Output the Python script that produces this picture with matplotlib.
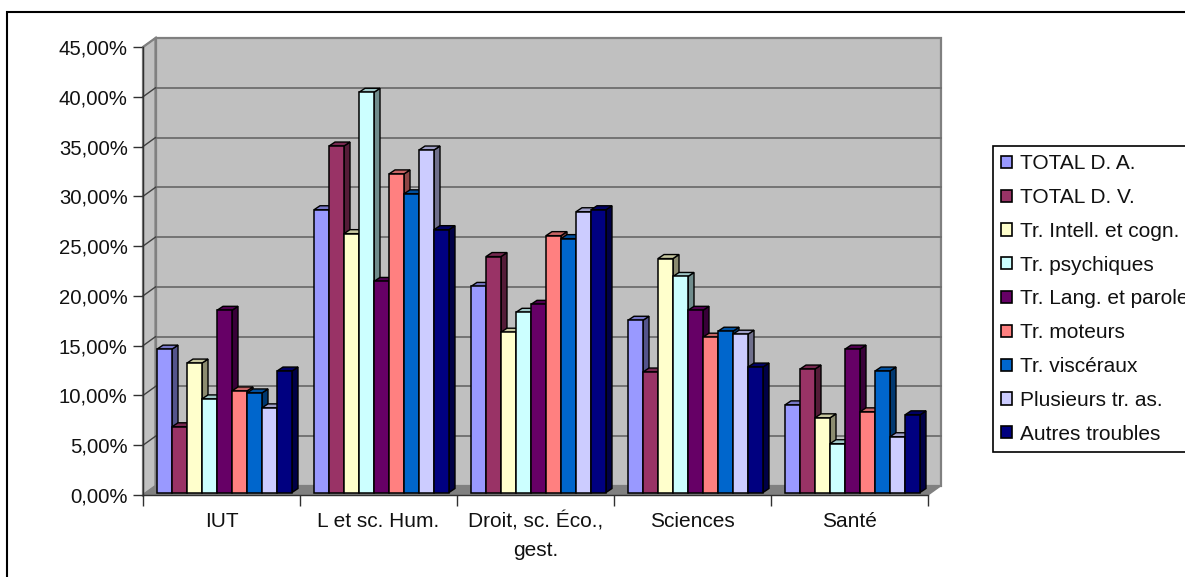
import numpy as np
import matplotlib
matplotlib.use("Agg")
import matplotlib.pyplot as plt
from matplotlib.patches import Polygon, Rectangle

plt.rcParams["font.family"] = ["Liberation Sans", "DejaVu Sans"]

W, H = 1185, 577

categories = ["IUT", "L et sc. Hum.", "Droit, sc. Éco.,\ngest.", "Sciences", "Santé"]

total_da = [14.4, 28.4, 20.7, 17.3, 8.8]
total_dv = [6.6, 34.8, 23.7, 12.1, 12.4]
intell = [13.0, 26.0, 16.1, 23.5, 7.5]
psy = [9.4, 40.2, 18.1, 21.7, 4.9]
lang = [18.3, 21.2, 18.9, 18.3, 14.4]
moteurs = [10.2, 32.0, 25.8, 15.6, 8.1]
visceraux = [10.0, 30.0, 25.5, 16.2, 12.2]
plusieurs = [8.5, 34.4, 28.2, 15.9, 5.6]
autres = [12.2, 26.4, 28.4, 12.6, 7.8]

series = [total_da, total_dv, intell, psy, lang, moteurs, visceraux, plusieurs, autres]
names = ["TOTAL D. A.", "TOTAL D. V.", "Tr. Intell. et cogn.", "Tr. psychiques",
         "Tr. Lang. et parole", "Tr. moteurs", "Tr. viscéraux", "Plusieurs tr. as.",
         "Autres troubles"]
colors = ["#9999FF", "#993366", "#FFFFCC", "#CCFFFF", "#660066",
          "#FF8080", "#0066CC", "#CCCCFF", "#000080"]
yticks = list(range(0, 50, 5))

# pixel sizes of the fake 3D, turned into data units below
PX_X = 157.0
PX_Y = 448 / 45


def shade(c, f):
    r, g, b = matplotlib.colors.to_rgb(c)
    return (r * f, g * f, b * f)


fig = plt.figure(figsize=(W / 100, H / 100), dpi=100, facecolor="white")

# outer frame, runs off the right and bottom of the image
fig.add_artist(Rectangle((7 / W, -0.05), 1.2, 1.05 - 12 / H, transform=fig.transFigure,
                         fill=False, ec="black", lw=1.5))

ax = fig.add_axes([143 / W, (H - 495) / H, 785 / W, 448 / H])
ax.set_xlim(0, 5)
ax.set_ylim(0, 45)
ax.patch.set_visible(False)
for s in ["top", "right"]:
    ax.spines[s].set_visible(False)
for s in ["left", "bottom"]:
    ax.spines[s].set_color("#303030")
    ax.spines[s].set_linewidth(1.0)

wdx, wdy = 12.5 / PX_X, 9 / PX_Y
gray = "#808080"

# walls and floor
ax.add_patch(Polygon([(wdx, wdy), (5 + wdx, wdy), (5 + wdx, 45 + wdy), (wdx, 45 + wdy)],
                     fc="#C0C0C0", ec=gray, lw=1.6, zorder=1, clip_on=False))
ax.add_patch(Polygon([(0, 0), (wdx, wdy), (wdx, 45 + wdy), (0, 45)],
                     fc="#C0C0C0", ec=gray, lw=1.6, zorder=1, clip_on=False))
ax.add_patch(Polygon([(0, 0), (5, 0), (5 + wdx, wdy), (wdx, wdy)],
                     fc=gray, ec=gray, lw=1.0, zorder=1, clip_on=False))
for v in yticks[1:-1]:
    ax.plot([wdx, 5 + wdx], [v + wdy, v + wdy], color="#6e6e6e", lw=1.3, zorder=2, clip_on=False)
for v in yticks[1:]:
    ax.plot([0, wdx], [v, v + wdy], color="#404040" if v < 45 else gray, lw=1.0, zorder=2, clip_on=False)

# bars
bw = 15 / PX_X
x0 = 14 / PX_X
base = 2.5 / PX_Y
bdx, bdy = 6 / PX_X, 4 / PX_Y
z = 3
for g in range(len(categories)):
    for i, vals in enumerate(series):
        left = g + x0 + i * bw
        top = vals[g] + base
        c = colors[i]
        ax.bar(left, top - base, bw, bottom=base, align="edge", color=c, ec="black",
               lw=1.1, zorder=z, clip_on=False)
        ax.add_patch(Polygon([(left + bw, base), (left + bw + bdx, base + bdy),
                              (left + bw + bdx, top + bdy), (left + bw, top)],
                             fc=shade(c, 0.55), ec="black", lw=1.0, zorder=z - 0.5, clip_on=False))
        ax.add_patch(Polygon([(left, top), (left + bw, top), (left + bw + bdx, top + bdy),
                              (left + bdx, top + bdy)],
                             fc=shade(c, 0.78), ec="black", lw=1.0, zorder=z - 0.5, clip_on=False))
        z += 1

# axes labels
ax.set_yticks(yticks)
ax.set_yticklabels([f"{v:.2f}%".replace(".", ",") for v in yticks], fontsize=14.6, color="#111111")
ax.tick_params(axis="y", length=7, width=1.0, color="#303030", pad=4)
ax.set_xticks(range(6))
ax.set_xticklabels([])
ax.tick_params(axis="x", which="major", length=8, width=1.0, color="#303030")
ax.set_xticks(np.arange(5) + 0.5, minor=True)
ax.set_xticklabels(categories, minor=True, fontsize=15, color="#111111", linespacing=1.6)
ax.tick_params(axis="x", which="minor", length=0, pad=12)

# legend box
handles = [Rectangle((0, 0), 1, 1, fc=c, ec="black", lw=1.2) for c in colors]
leg = fig.legend(handles, names, loc="upper left", bbox_to_anchor=(993 / W, 1 - 146 / H),
                 bbox_transform=fig.transFigure, fontsize=15.0, frameon=True, fancybox=False,
                 edgecolor="black", framealpha=1, borderpad=0.4, labelspacing=0.71,
                 handlelength=0.52, handleheight=0.52, handletextpad=0.36, borderaxespad=0)
leg.get_frame().set_linewidth(1.2)
for t in leg.get_texts():
    t.set_color("#111111")

fig.savefig("out.png", dpi=100)
